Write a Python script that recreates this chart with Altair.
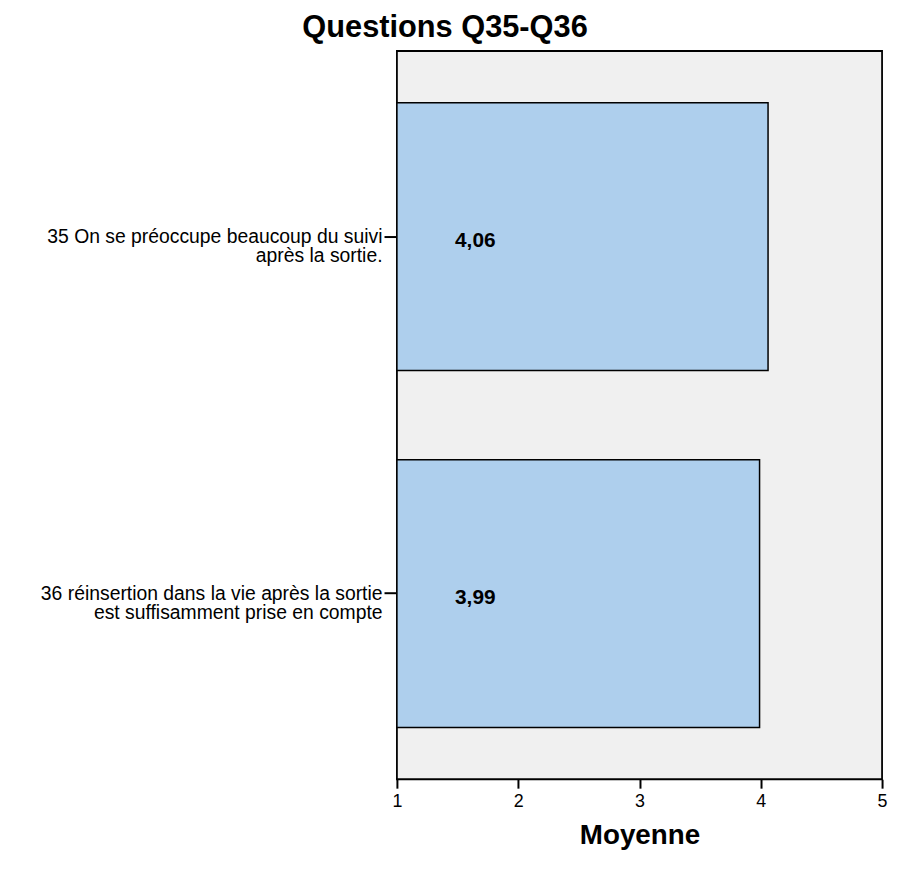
import altair as alt
import pandas as pd

categories = [
    "35 On se préoccupe beaucoup du suivi|après la sortie.",
    "36 réinsertion dans la vie après la sortie|est suffisamment prise en compte",
]
values = [4.06, 3.99]
value_labels = [f"{v:.2f}".replace(".", ",") for v in values]
x_ticks = [1, 2, 3, 4, 5]

df = pd.DataFrame({"cat": categories, "val": values, "lab": value_labels})

FONT = "Liberation Sans"

y_enc = alt.Y(
    "cat:N",
    sort=None,
    title=None,
    scale=alt.Scale(paddingInner=0.25, paddingOuter=0.145),
    axis=alt.Axis(
        labelExpr="split(datum.label, '|')",
        labelFont=FONT,
        labelFontSize=19.5,
        labelColor="black",
        labelLineHeight=19.5,
        labelPadding=2,
        labelLimit=0,
        tickSize=13,
        tickWidth=2,
        tickColor="black",
        domain=False,
        grid=False,
    ),
)

bars = alt.Chart(df).mark_bar(
    fill="#aecfed", stroke="black", strokeWidth=1.5
).encode(
    x=alt.X(
        "val:Q",
        scale=alt.Scale(domain=[1, 5], nice=False, zero=False),
        axis=alt.Axis(
            values=x_ticks,
            title="Moyenne",
            titleFont=FONT,
            titleFontSize=28,
            titleFontWeight="bold",
            titleColor="black",
            titlePadding=12,
            labelFont=FONT,
            labelFontSize=18,
            labelColor="black",
            labelPadding=4,
            labelFlush=False,
            tickSize=9,
            tickWidth=2,
            tickColor="black",
            domain=False,
            grid=False,
        ),
    ),
    x2=alt.datum(1),
    y=y_enc,
)

texts = alt.Chart(df).mark_text(
    font=FONT, fontSize=21, fontWeight="bold", color="black",
    align="center", baseline="middle", dy=4,
).encode(
    x=alt.value(79),
    y=alt.Y("cat:N", sort=None),
    text="lab:N",
)

chart = (
    alt.layer(bars, texts)
    .properties(
        width=489,
        height=734,
        autosize=alt.AutoSizeParams(type="none"),
        padding={"left": 392, "top": 40, "right": 8, "bottom": 72},
        view=alt.ViewBackground(stroke="black", strokeWidth=1.8, fill="#f0f0f0"),
        title=alt.TitleParams(
            "Questions Q35-Q36",
            font=FONT,
            fontSize=31,
            fontWeight="bold",
            color="black",
            anchor="middle",
            frame="group",
            dx=-196,
            offset=7,
        ),
    )
    .configure(background="white")
)

chart.save("out.html", embed_options={"renderer": "svg", "actions": False})
